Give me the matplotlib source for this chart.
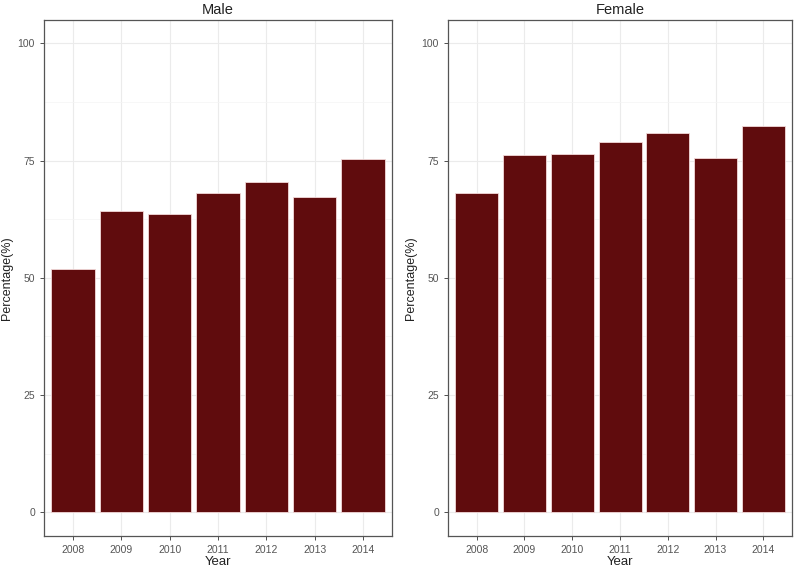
import numpy as np
import matplotlib
matplotlib.use("Agg")
import matplotlib.pyplot as plt

plt.rcParams["font.family"] = ["Liberation Sans", "DejaVu Sans"]

years = ["2008", "2009", "2010", "2011", "2012", "2013", "2014"]
male_pct = [51.8, 64.3, 63.6, 68.0, 70.4, 67.3, 75.3]
female_pct = [68.1, 76.2, 76.4, 78.9, 80.9, 75.5, 82.4]

bar_color = "#600c0d"
grid_color = "#ebebeb"

fig = plt.figure(figsize=(8, 5.7), dpi=100)
ax_m = fig.add_axes([0.055, 0.06, 0.435, 0.905])
ax_f = fig.add_axes([0.56, 0.06, 0.43, 0.905])


def draw_panel(ax, values, title):
    x = np.arange(len(years))
    ax.bar(x, values, width=0.9, color=bar_color, edgecolor="#f3d9d9",
           linewidth=0.6, zorder=3)
    ax.set_xlim(-0.6, 6.6)
    ax.set_ylim(-5, 105)
    ax.set_xticks(x)
    ax.set_xticklabels(years)
    ax.set_yticks([0, 25, 50, 75, 100])
    ax.set_yticks([12.5, 37.5, 62.5, 87.5], minor=True)
    ax.grid(True, which="major", color=grid_color, linewidth=0.8, zorder=0)
    ax.grid(True, which="minor", axis="y", color="#f4f4f4", linewidth=0.5, zorder=0)
    ax.tick_params(axis="both", which="major", labelsize=7.5, labelcolor="#555555",
                   color="#333333", length=3, width=0.6)
    ax.tick_params(axis="y", which="minor", length=0)
    for s in ax.spines.values():
        s.set_color("#555555")
        s.set_linewidth(0.9)
    ax.set_xlabel("Year", fontsize=9.5, color="#222222", labelpad=1)
    ax.set_ylabel("Percentage(%)", fontsize=9, color="#222222", labelpad=3)
    ax.set_title(title, fontsize=10.5, color="#222222", pad=4)


draw_panel(ax_m, male_pct, "Male")
draw_panel(ax_f, female_pct, "Female")

fig.savefig("out.png", dpi=100)
